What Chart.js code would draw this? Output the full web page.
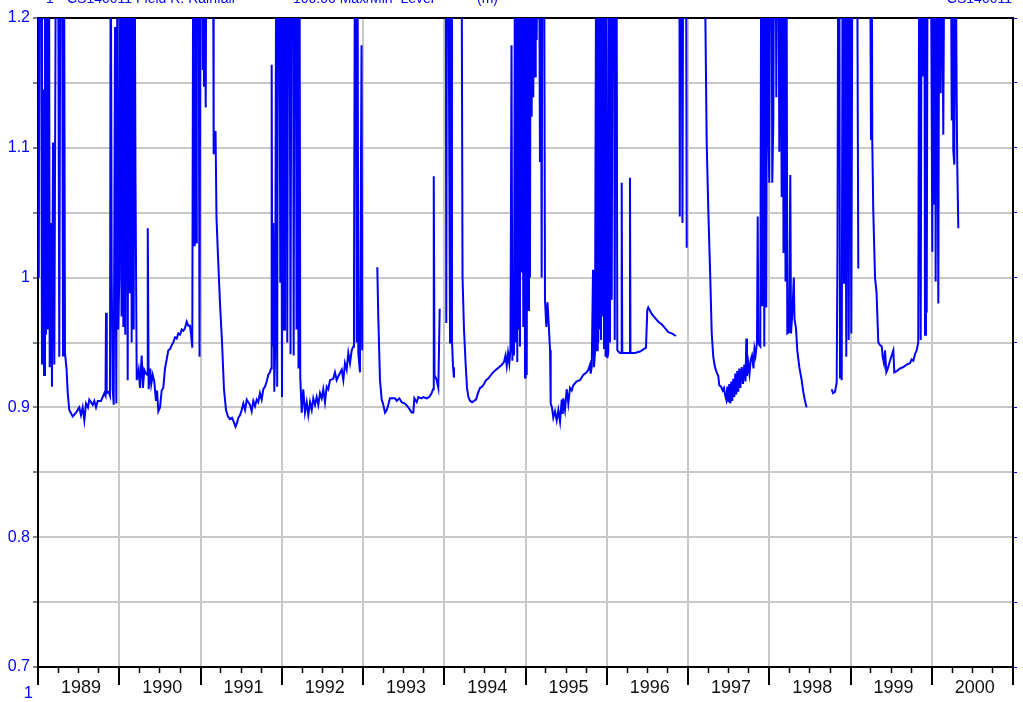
<!DOCTYPE html>
<html lang="en">
<head>
  <meta charset="UTF-8">
  <title>Level record 1989-2000</title>
  <script src="https://cdn.jsdelivr.net/npm/chart.js"></script>
  <style>
    html, body {
      margin: 0;
      padding: 0;
      background: #ffffff;
      overflow: hidden;
    }
    canvas {
      display: block;
    }
  </style>
</head>
<body>
  <canvas id="levelChart" width="1023" height="702"></canvas>

  <script>
    // axis ticks and labels
    const yearBounds = [1989, 1990, 1991, 1992, 1993, 1994, 1995, 1996, 1997, 1998, 1999, 2000, 2001];
    const yearLabels = ['1989', '1990', '1991', '1992', '1993', '1994', '1995', '1996', '1997', '1998', '1999', '2000'];
    const levelGrid = [0.7, 0.75, 0.8, 0.85, 0.9, 0.95, 1, 1.05, 1.1, 1.15, 1.2];
    const levelLabels = [0.7, 0.8, 0.9, 1, 1.1, 1.2];

    // level (m), [decimal year, level]; null = no record
    // values above the top of the plot were entered as 1.3
    const lv1989 = [[1989.004,1.3],[1989.010,1.0],[1989.018,1.3],[1989.037,1.3],[1989.049,0.933],[1989.062,1.145],[1989.074,0.925],[1989.086,1.3],[1989.098,0.956],[1989.111,1.3],[1989.123,0.96],[1989.135,1.3],[1989.144,0.931],[1989.160,1.042],[1989.172,0.916],[1989.185,1.104],[1989.201,0.933],[1989.222,1.3],[1989.246,1.3],[1989.262,0.939],[1989.277,1.3],[1989.295,1.3],[1989.308,0.94],[1989.320,1.3],[1989.332,0.942],[1989.351,0.93],[1989.366,0.911],[1989.385,0.898],[1989.427,0.893],[1989.468,0.896],[1989.508,0.9],[1989.529,0.894],[1989.550,0.9],[1989.570,0.89],[1989.591,0.903],[1989.615,0.9],[1989.631,0.906],[1989.673,0.902],[1989.693,0.905],[1989.714,0.9],[1989.735,0.905],[1989.775,0.905],[1989.796,0.908],[1989.816,0.911],[1989.831,0.909],[1989.837,0.973],[1989.846,0.911],[1989.870,0.912],[1989.886,0.909],[1989.895,1.3],[1989.907,1.002],[1989.919,0.914],[1989.932,0.902],[1989.948,1.193],[1989.956,1.024],[1989.964,0.903],[1989.978,1.3],[1989.987,0.96]];
    const lv1990 = [[1990.001,1.0],[1990.015,1.3],[1990.028,0.97],[1990.038,1.3],[1990.050,0.962],[1990.062,1.3],[1990.074,0.956],[1990.087,1.3],[1990.104,0.921],[1990.116,1.3],[1990.129,0.988],[1990.141,1.3],[1990.153,0.95],[1990.166,1.3],[1990.178,0.96],[1990.188,1.3],[1990.200,1.075],[1990.215,0.921],[1990.239,0.929],[1990.255,0.915],[1990.276,0.94],[1990.292,0.915],[1990.308,0.929],[1990.329,0.926],[1990.348,0.925],[1990.351,1.038],[1990.362,0.914],[1990.382,0.93],[1990.394,0.918],[1990.412,0.925],[1990.431,0.92],[1990.452,0.905],[1990.465,0.913],[1990.481,0.897],[1990.502,0.9],[1990.522,0.913],[1990.542,0.915],[1990.563,0.93],[1990.584,0.937],[1990.604,0.944],[1990.625,0.945],[1990.646,0.948],[1990.665,0.95],[1990.686,0.954],[1990.707,0.953],[1990.727,0.957],[1990.748,0.956],[1990.769,0.96],[1990.788,0.959],[1990.809,0.961],[1990.830,0.966],[1990.850,0.963],[1990.871,0.963],[1990.887,0.954],[1990.899,0.946],[1990.911,1.3],[1990.920,1.025],[1990.929,1.3],[1990.938,1.3],[1990.947,1.027],[1990.954,1.3],[1990.975,1.3],[1990.988,0.939]];
    const lv1991 = [[1991.000,1.3],[1991.010,1.2],[1991.018,1.3],[1991.027,1.16],[1991.034,1.3],[1991.043,1.147],[1991.052,1.3],[1991.064,1.131],[1991.074,1.3],[1991.117,1.3],[1991.154,1.3],[1991.158,1.095],[1991.166,1.113],[1991.175,1.095],[1991.185,1.113],[1991.197,1.046],[1991.215,1.017],[1991.240,0.98],[1991.265,0.95],[1991.289,0.914],[1991.314,0.898],[1991.338,0.893],[1991.363,0.891],[1991.388,0.892],[1991.408,0.889],[1991.431,0.885],[1991.449,0.888],[1991.465,0.892],[1991.486,0.894],[1991.507,0.898],[1991.527,0.903],[1991.548,0.898],[1991.569,0.906],[1991.588,0.904],[1991.609,0.902],[1991.630,0.897],[1991.650,0.905],[1991.671,0.901],[1991.692,0.906],[1991.711,0.904],[1991.732,0.911],[1991.753,0.906],[1991.773,0.914],[1991.794,0.916],[1991.815,0.92],[1991.834,0.925],[1991.855,0.927],[1991.868,0.93],[1991.876,1.164],[1991.884,0.947],[1991.896,1.042],[1991.908,0.912],[1991.919,0.944],[1991.933,1.3],[1991.944,0.916],[1991.954,1.3],[1991.970,1.3],[1991.982,0.996],[1991.991,1.3]];
    const lv1992 = [[1992.003,0.908],[1992.015,1.3],[1992.028,0.96],[1992.040,1.3],[1992.056,1.3],[1992.068,0.95],[1992.081,1.3],[1992.095,1.3],[1992.108,0.941],[1992.120,1.3],[1992.138,1.3],[1992.147,0.94],[1992.157,1.3],[1992.172,1.3],[1992.182,0.96],[1992.194,1.3],[1992.206,0.93],[1992.218,1.3],[1992.228,0.923],[1992.246,0.896],[1992.265,0.914],[1992.286,0.896],[1992.307,0.904],[1992.327,0.894],[1992.348,0.904],[1992.369,0.898],[1992.388,0.907],[1992.409,0.902],[1992.430,0.908],[1992.450,0.902],[1992.471,0.911],[1992.492,0.907],[1992.511,0.914],[1992.532,0.904],[1992.553,0.916],[1992.573,0.914],[1992.594,0.921],[1992.634,0.922],[1992.655,0.927],[1992.676,0.921],[1992.696,0.924],[1992.738,0.929],[1992.758,0.921],[1992.778,0.934],[1992.799,0.929],[1992.819,0.942],[1992.840,0.934],[1992.861,0.944],[1992.881,0.947],[1992.889,0.988],[1992.902,1.3],[1992.914,1.3],[1992.922,0.95],[1992.932,1.3],[1992.942,0.942],[1992.963,0.927],[1992.982,1.179],[1992.991,0.944],[1993.1,null]];
    const lv1993 = [[1993.176,1.008],[1993.188,0.97],[1993.209,0.921],[1993.230,0.906],[1993.250,0.902],[1993.271,0.896],[1993.292,0.898],[1993.311,0.902],[1993.332,0.907],[1993.394,0.907],[1993.415,0.905],[1993.447,0.907],[1993.476,0.904],[1993.517,0.903],[1993.558,0.9],[1993.599,0.896],[1993.619,0.896],[1993.632,0.907],[1993.661,0.904],[1993.681,0.908],[1993.722,0.907],[1993.742,0.908],[1993.784,0.907],[1993.816,0.908],[1993.845,0.911],[1993.862,0.914],[1993.871,1.078],[1993.880,0.925],[1993.907,0.921],[1993.927,0.915],[1993.944,0.976],[1994.0,null]];
    const lv1994 = [[1994.018,1.3],[1994.025,0.965],[1994.034,1.3],[1994.050,1.3],[1994.062,1.088],[1994.071,0.95],[1994.079,1.3],[1994.089,1.3],[1994.095,0.952],[1994.108,0.931],[1994.120,0.923],[1994.16,null],[1994.212,1.3],[1994.225,1.0],[1994.243,0.96],[1994.262,0.935],[1994.280,0.915],[1994.298,0.908],[1994.317,0.905],[1994.342,0.904],[1994.366,0.905],[1994.391,0.906],[1994.415,0.911],[1994.440,0.915],[1994.465,0.916],[1994.489,0.918],[1994.514,0.921],[1994.538,0.922],[1994.563,0.924],[1994.600,0.927],[1994.637,0.929],[1994.674,0.931],[1994.711,0.933],[1994.735,0.935],[1994.754,0.94],[1994.769,0.932],[1994.785,0.942],[1994.801,0.934],[1994.815,0.945],[1994.828,1.179],[1994.838,0.936],[1994.850,0.972],[1994.858,0.94],[1994.871,1.3],[1994.879,0.95],[1994.889,1.3],[1994.899,0.935],[1994.908,1.3],[1994.916,0.96],[1994.924,1.3],[1994.932,0.947],[1994.941,1.3],[1994.951,1.004],[1994.961,1.3],[1994.973,0.962],[1994.982,1.3],[1994.994,0.923]];
    const lv1995 = [[1995.002,1.3],[1995.015,0.925],[1995.025,1.3],[1995.035,0.975],[1995.043,1.3],[1995.055,1.0],[1995.064,1.3],[1995.076,1.124],[1995.086,1.3],[1995.096,1.139],[1995.105,1.3],[1995.117,1.155],[1995.126,1.3],[1995.138,1.183],[1995.148,1.3],[1995.166,1.3],[1995.178,1.089],[1995.187,1.3],[1995.199,1.0],[1995.209,1.3],[1995.228,1.3],[1995.240,0.983],[1995.256,0.962],[1995.271,0.981],[1995.289,0.96],[1995.302,0.944],[1995.310,0.903],[1995.326,0.9],[1995.342,0.892],[1995.363,0.897],[1995.384,0.89],[1995.404,0.898],[1995.425,0.889],[1995.446,0.906],[1995.458,0.895],[1995.465,0.907],[1995.486,0.898],[1995.507,0.914],[1995.527,0.903],[1995.548,0.915],[1995.569,0.913],[1995.588,0.917],[1995.630,0.92],[1995.671,0.921],[1995.711,0.925],[1995.753,0.927],[1995.773,0.929],[1995.794,0.933],[1995.802,0.926],[1995.815,0.931],[1995.831,1.006],[1995.843,0.931],[1995.855,0.942],[1995.871,1.3],[1995.880,0.944],[1995.889,1.3],[1995.896,0.95],[1995.905,1.3],[1995.913,0.96],[1995.921,1.3],[1995.929,0.952],[1995.938,1.3],[1995.948,0.97],[1995.957,1.3],[1995.966,0.945],[1995.975,1.3],[1995.985,0.939],[1995.994,1.3]];
    const lv1996 = [[1996.007,0.938],[1996.019,0.942],[1996.031,1.3],[1996.040,0.95],[1996.052,1.3],[1996.061,0.983],[1996.073,1.3],[1996.089,1.3],[1996.098,0.952],[1996.108,1.3],[1996.120,1.3],[1996.130,0.944],[1996.142,0.943],[1996.163,0.942],[1996.179,0.942],[1996.184,1.073],[1996.191,0.942],[1996.246,0.942],[1996.283,0.942],[1996.286,1.077],[1996.292,0.942],[1996.348,0.942],[1996.409,0.943],[1996.483,0.946],[1996.499,0.975],[1996.511,0.977],[1996.553,0.972],[1996.594,0.969],[1996.634,0.966],[1996.676,0.964],[1996.717,0.961],[1996.758,0.958],[1996.799,0.957],[1996.852,0.955],[1996.87,null],[1996.893,1.3],[1996.899,1.047],[1996.905,1.3],[1996.920,1.3],[1996.932,1.042],[1996.942,1.3],[1996.963,1.3],[1996.975,1.3],[1996.984,1.023],[1997.1,null]];
    const lv1997 = [[1997.197,1.3],[1997.230,1.104],[1997.250,1.052],[1997.274,1.0],[1997.292,0.957],[1997.311,0.939],[1997.332,0.931],[1997.353,0.927],[1997.373,0.924],[1997.385,0.917],[1997.406,0.916],[1997.427,0.913],[1997.443,0.915],[1997.455,0.91],[1997.471,0.906],[1997.484,0.916],[1997.496,0.904],[1997.508,0.918],[1997.521,0.903],[1997.533,0.92],[1997.545,0.905],[1997.557,0.922],[1997.570,0.908],[1997.582,0.926],[1997.594,0.91],[1997.607,0.928],[1997.619,0.912],[1997.631,0.93],[1997.644,0.915],[1997.661,0.931],[1997.677,0.918],[1997.693,0.933],[1997.708,0.92],[1997.718,0.953],[1997.726,0.924],[1997.742,0.934],[1997.757,0.926],[1997.772,0.937],[1997.788,0.94],[1997.806,0.93],[1997.818,0.945],[1997.831,0.94],[1997.849,0.95],[1997.858,1.047],[1997.865,0.95],[1997.878,0.948],[1997.890,0.947],[1997.902,1.3],[1997.915,0.978],[1997.927,1.3],[1997.939,0.947],[1997.951,1.3],[1997.963,0.977],[1997.976,1.3],[1997.988,1.121]];
    const lv1998 = [[1998.000,1.073],[1998.013,1.3],[1998.028,1.3],[1998.037,1.073],[1998.050,1.119],[1998.062,1.3],[1998.077,1.3],[1998.087,1.139],[1998.099,1.3],[1998.111,1.3],[1998.124,1.097],[1998.136,1.3],[1998.153,1.062],[1998.165,1.3],[1998.175,1.019],[1998.188,1.3],[1998.200,0.997],[1998.212,1.3],[1998.222,0.957],[1998.243,0.958],[1998.259,1.079],[1998.268,0.957],[1998.286,0.975],[1998.302,1.0],[1998.311,0.968],[1998.329,0.961],[1998.345,0.944],[1998.370,0.931],[1998.399,0.921],[1998.419,0.912],[1998.437,0.906],[1998.459,0.9],[1998.6,null],[1998.769,0.914],[1998.785,0.911],[1998.809,0.912],[1998.830,0.919],[1998.840,1.025],[1998.850,1.3],[1998.862,1.3],[1998.871,0.923],[1998.883,0.937],[1998.892,0.921],[1998.904,1.3],[1998.920,0.996],[1998.932,1.3],[1998.948,0.939],[1998.960,1.3],[1998.978,0.952],[1998.994,1.3]];
    const lv1999 = [[1999.010,0.957],[1999.025,1.3],[1999.043,1.3],[1999.062,1.3],[1999.080,1.3],[1999.096,1.007],[1999.17,null],[1999.240,1.3],[1999.252,1.106],[1999.261,1.3],[1999.268,1.106],[1999.280,1.052],[1999.302,1.0],[1999.321,0.988],[1999.342,0.95],[1999.363,0.948],[1999.384,0.947],[1999.396,0.939],[1999.412,0.934],[1999.425,0.944],[1999.441,0.927],[1999.455,0.929],[1999.486,0.936],[1999.527,0.944],[1999.539,0.927],[1999.569,0.928],[1999.609,0.93],[1999.650,0.931],[1999.692,0.933],[1999.732,0.934],[1999.753,0.937],[1999.773,0.936],[1999.794,0.941],[1999.815,0.944],[1999.834,0.95],[1999.847,1.3],[1999.864,0.952],[1999.876,1.3],[1999.896,1.155],[1999.908,1.3],[1999.917,0.956],[1999.929,1.3],[1999.938,0.973],[1999.950,1.3],[1999.970,1.3],[1999.987,1.3]];
    const lv2000 = [[2000.007,1.02],[2000.019,1.3],[2000.028,1.057],[2000.040,1.3],[2000.048,0.997],[2000.061,1.3],[2000.081,0.98],[2000.093,1.3],[2000.110,1.142],[2000.122,1.3],[2000.142,1.11],[2000.157,1.3],[2000.233,1.3],[2000.246,1.121],[2000.255,1.3],[2000.265,1.098],[2000.278,1.087],[2000.292,1.3],[2000.307,1.137],[2000.314,1.087],[2000.327,1.038]];

    const points = [lv1989, lv1990, lv1991, lv1992, lv1993, lv1994, lv1995, lv1996, lv1997, lv1998, lv1999, lv2000]
      .flat()
      .map(([t, v]) => ({ x: t, y: v }));

    const quarterTicks = [];
    yearBounds.slice(0, -1).forEach(y => quarterTicks.push(y + 0.25, y + 0.5, y + 0.75));

    const FONT = '"Liberation Sans", Arial, sans-serif';
    const BLUE = '#0000ff';
    const GRID = '#c8c8c8';
    const xMin = yearBounds[0], xMax = yearBounds[yearBounds.length - 1];
    const yMin = levelGrid[0], yMax = levelGrid[levelGrid.length - 1];

    const isLabel = v => levelLabels.some(l => Math.abs(l - v) < 1e-9);

    // header and corner texts of the original printout
    const captions = {
      id: 'captions',
      afterDraw(chart) {
        const c = chart.ctx;
        c.save();
        c.fillStyle = BLUE;
        c.textBaseline = 'alphabetic';
        c.font = '14px ' + FONT;
        c.fillText('1', 46, 3);
        c.fillText('CS140011 Field R. Rainfall', 67, 3);
        c.fillText('100.00 Max/Min  Level', 293, 3);
        c.fillText('(m)', 477, 3);
        c.textAlign = 'right';
        c.fillText('CS140011', 1012, 3);
        c.textAlign = 'left';
        c.font = '16px ' + FONT;
        c.fillText('1', 24, 698);
        c.restore();
      }
    };

    const ctx = document.getElementById('levelChart').getContext('2d');

    new Chart(ctx, {
      type: 'line',
      data: {
        datasets: [{
          label: 'Level',
          data: points,
          borderColor: BLUE,
          borderWidth: 2,
          pointRadius: 0,
          tension: 0,
          spanGaps: false,
          clip: 0
        }]
      },
      options: {
        responsive: false,
        animation: false,
        layout: { padding: 0 },
        plugins: {
          legend: { display: false },
          tooltip: { enabled: false }
        },
        scales: {
          xm: {
            type: 'linear',
            position: 'bottom',
            weight: 0,
            min: xMin,
            max: xMax,
            afterBuildTicks: s => { s.ticks = quarterTicks.map(v => ({ value: v })); },
            afterFit: s => { s.height = 0; },
            ticks: { display: false },
            grid: { drawOnChartArea: false, tickLength: 6, tickColor: '#000', tickWidth: 1.5 },
            border: { display: false }
          },
          x: {
            type: 'linear',
            position: 'bottom',
            weight: 1,
            min: xMin,
            max: xMax,
            afterBuildTicks: s => { s.ticks = yearBounds.map(v => ({ value: v })); },
            afterFit: s => { s.height = 35; },
            ticks: {
              autoSkip: false,
              maxRotation: 0,
              labelOffset: 43,
              padding: -8,
              color: '#111',
              font: { family: FONT, size: 18 },
              callback: (v, i) => yearLabels[i] || ''
            },
            grid: {
              color: c => (c.tick && (c.tick.value === xMin || c.tick.value === xMax)) ? 'rgba(0,0,0,0)' : GRID,
              lineWidth: 2,
              tickLength: 18,
              tickColor: '#000',
              tickWidth: 2
            },
            border: { color: '#000', width: 2 }
          },
          xt: {
            type: 'linear',
            position: 'top',
            min: xMin,
            max: xMax,
            afterBuildTicks: s => { s.ticks = []; },
            afterFit: s => { s.height = 18; },
            ticks: { display: false },
            grid: { drawOnChartArea: false, drawTicks: false },
            border: { color: '#000', width: 2 }
          },
          y: {
            type: 'linear',
            position: 'left',
            min: yMin,
            max: yMax,
            afterBuildTicks: s => { s.ticks = levelGrid.map(v => ({ value: v })); },
            afterFit: s => { s.width = 38; },
            ticks: {
              autoSkip: false,
              padding: 3,
              color: BLUE,
              font: { family: FONT, size: 16 },
              callback: v => isLabel(v) ? String(v) : ''
            },
            grid: {
              color: c => (c.tick && (c.tick.value === yMin || c.tick.value === yMax)) ? 'rgba(0,0,0,0)' : GRID,
              lineWidth: 2,
              tickLength: 5,
              tickColor: '#000',
              tickWidth: 1
            },
            border: { color: '#000', width: 2 }
          },
          yr: {
            type: 'linear',
            position: 'right',
            min: yMin,
            max: yMax,
            afterBuildTicks: s => { s.ticks = levelGrid.map(v => ({ value: v })); },
            afterFit: s => { s.width = 10; },
            ticks: { display: false },
            grid: { drawOnChartArea: false, tickLength: 4, tickColor: BLUE, tickWidth: 1 },
            border: { color: '#000', width: 2 }
          }
        }
      },
      plugins: [captions]
    });
  </script>
</body>
</html>
